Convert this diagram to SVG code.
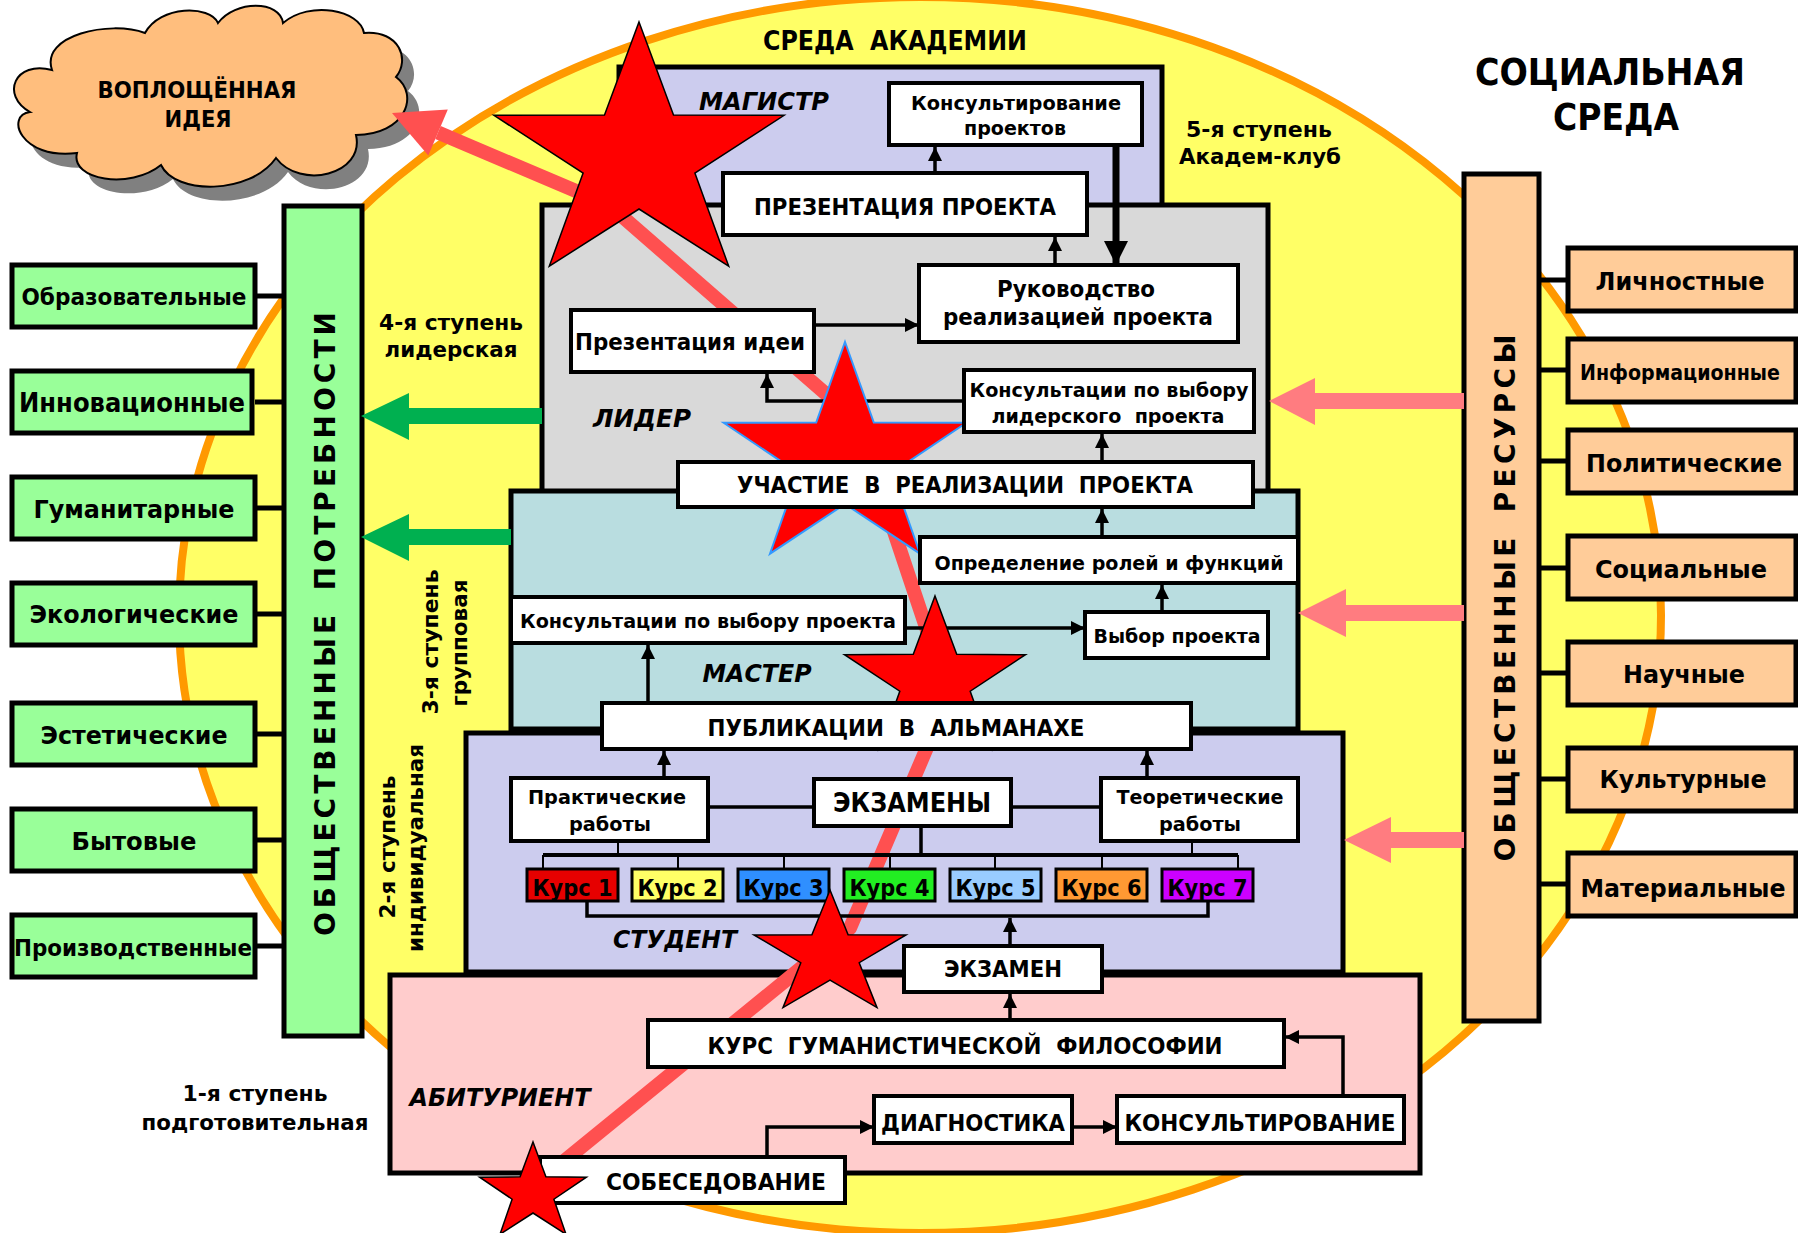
<svg xmlns="http://www.w3.org/2000/svg" width="1798" height="1233" viewBox="0 0 1798 1233">
<style>
.t{font-family:"DejaVu Sans","Liberation Sans",sans-serif;font-weight:bold;text-anchor:middle;fill:#000;white-space:pre}
.it{font-style:italic}
.box{fill:#fff;stroke:#000;stroke-width:4}
.cont{stroke:#000;stroke-width:5}
.ln{stroke:#000;stroke-width:3.5;fill:none}
.thin{stroke:#000;stroke-width:2;fill:none}
.gb{fill:#99FF99;stroke:#000;stroke-width:5}
.pb{fill:#FFCC99;stroke:#000;stroke-width:5}
.kc{stroke:#000;stroke-width:5}
.star{fill:#FF0000;stroke:#000;stroke-width:1.5}
.kurs{stroke:#000;stroke-width:3}
</style>
<defs>
<marker id="a" viewBox="0 0 10 10" refX="10" refY="5" markerWidth="15" markerHeight="14" markerUnits="userSpaceOnUse" orient="auto"><path d="M0,0 L10,5 L0,10 Z" fill="#000"/></marker>
<marker id="ab" viewBox="0 0 10 10" refX="10" refY="5" markerWidth="24" markerHeight="24" markerUnits="userSpaceOnUse" orient="auto"><path d="M0,0 L10,5 L0,10 Z" fill="#000"/></marker>
</defs>
<rect width="1798" height="1233" fill="#fff"/>
<ellipse cx="920" cy="615" rx="741" ry="618" fill="#FFFF66" stroke="#FF9900" stroke-width="8"/>

<g id="cloud">
<path transform="translate(12,14)" fill="#808080" d="M52,70 C40,35 110,20 145,33 C160,5 210,5 218,23 C235,0 280,0 283,23 C310,0 360,10 364,33 C400,30 410,60 396,77 C420,95 405,135 356,135 C365,175 300,190 276,158 C250,195 175,195 161,165 C130,190 70,180 77,153 C20,160 5,115 30,112 C0,95 15,60 52,70 Z"/>
<path fill="#FFBE7D" stroke="#000" stroke-width="2" d="M52,70 C40,35 110,20 145,33 C160,5 210,5 218,23 C235,0 280,0 283,23 C310,0 360,10 364,33 C400,30 410,60 396,77 C420,95 405,135 356,135 C365,175 300,190 276,158 C250,195 175,195 161,165 C130,190 70,180 77,153 C20,160 5,115 30,112 C0,95 15,60 52,70 Z"/>
<text class="t" x="197" y="98" font-size="23" textLength="199" lengthAdjust="spacingAndGlyphs">ВОПЛОЩЁННАЯ</text>
<text class="t" x="198" y="127" font-size="23" textLength="67" lengthAdjust="spacingAndGlyphs">ИДЕЯ</text>
</g>

<g id="titles">
<text class="t" x="895" y="50" font-size="26" textLength="264" lengthAdjust="spacingAndGlyphs" xml:space="preserve">СРЕДА  АКАДЕМИИ</text>
<text class="t" x="1610" y="85" font-size="38" textLength="270" lengthAdjust="spacingAndGlyphs">СОЦИАЛЬНАЯ</text>
<text class="t" x="1616" y="130" font-size="38" textLength="126" lengthAdjust="spacingAndGlyphs">СРЕДА</text>
<text class="t" x="1259" y="137" font-size="22" textLength="146" lengthAdjust="spacingAndGlyphs">5-я ступень</text>
<text class="t" x="1260" y="164" font-size="22" textLength="162" lengthAdjust="spacingAndGlyphs">Академ-клуб</text>
<text class="t" x="451" y="330" font-size="22" textLength="144" lengthAdjust="spacingAndGlyphs">4-я ступень</text>
<text class="t" x="451" y="357" font-size="22" textLength="133" lengthAdjust="spacingAndGlyphs">лидерская</text>
<text class="t" x="255" y="1101" font-size="22" textLength="145" lengthAdjust="spacingAndGlyphs">1-я ступень</text>
<text class="t" x="255" y="1130" font-size="22" textLength="227" lengthAdjust="spacingAndGlyphs">подготовительная</text>
<text class="t" transform="rotate(-90 438 642)" x="438" y="642" font-size="22" textLength="145" lengthAdjust="spacingAndGlyphs">3-я ступень</text>
<text class="t" transform="rotate(-90 467 643)" x="467" y="643" font-size="22" textLength="127" lengthAdjust="spacingAndGlyphs">групповая</text>
<text class="t" transform="rotate(-90 395 847)" x="395" y="847" font-size="22" textLength="143" lengthAdjust="spacingAndGlyphs">2-я ступень</text>
<text class="t" transform="rotate(-90 423 848)" x="423" y="848" font-size="22" textLength="208" lengthAdjust="spacingAndGlyphs">индивидуальная</text>
</g>

<g id="containers">
<rect id="magistr" class="cont" x="619" y="67" width="543" height="140" fill="#CCCCEE"/>
<rect id="lider" class="cont" x="542" y="205" width="726" height="288" fill="#D9D9D9"/>
<rect id="master" class="cont" x="511" y="491" width="787" height="238" fill="#B9DDE0"/>
<rect id="student" class="cont" x="466" y="733" width="877" height="239" fill="#CCCCEE"/>
<rect id="abiturient" class="cont" x="390" y="975" width="1030" height="198" fill="#FFCCCC"/>
</g>

<g id="path-line">
<polyline points="547,1175 850,928 949,696 857,421 609,205 438,132.5" fill="none" stroke="#FF5050" stroke-width="14" stroke-linejoin="round"/>
<polygon points="392,113 447.8,109.5 428.3,155.5" fill="#FF5050"/>
</g>

<g id="connectors">
<path class="ln" d="M935,173 V147" marker-end="url(#a)"/>
<path d="M1116,145 V265" stroke="#000" stroke-width="7" fill="none" marker-end="url(#ab)"/>
<path class="ln" d="M1055,265 V237" marker-end="url(#a)"/>
<path class="ln" d="M814,325 H919" marker-end="url(#a)"/>
<path class="ln" d="M964,401 H767 V374" marker-end="url(#a)"/>
<path class="ln" d="M1102,462 V434" marker-end="url(#a)"/>
<path class="ln" d="M1102,537 V509" marker-end="url(#a)"/>
<path class="ln" d="M1162,612 V585" marker-end="url(#a)"/>
<path class="ln" d="M905,628 H1085" marker-end="url(#a)"/>
<path class="ln" d="M648,703 V645" marker-end="url(#a)"/>
<path class="ln" d="M664,778 V751" marker-end="url(#a)"/>
<path class="ln" d="M1147,778 V751" marker-end="url(#a)"/>
<path class="ln" d="M708,807 H814 M1011,807 H1101 M921,826 V855"/>
<path d="M543,855 H1238" stroke="#000" stroke-width="4" fill="none"/>
<path class="thin" d="M618,841 V855 M1192,841 V855 M543,855 V869 M678,855 V869 M784,855 V869 M890,855 V869 M995,855 V869 M1102,855 V869 M1238,855 V869"/>
<path class="ln" d="M587,901 V916 H1208 V901"/>
<path class="ln" d="M1010,946 V918" marker-end="url(#a)"/>
<path class="ln" d="M1010,1020 V994" marker-end="url(#a)"/>
<path class="ln" d="M767,1157 V1127 H874" marker-end="url(#a)"/>
<path class="ln" d="M1072,1127 H1117" marker-end="url(#a)"/>
<path class="ln" d="M1343,1096 V1037 H1285" marker-end="url(#a)"/>
</g>

<g id="stars-back">
<polygon id="star2" points="845,342 873.8,422.6 966.3,422.8 891.7,472.9 920,553.7 845,504 770,553.7 798.3,472.9 723.7,422.8 816.2,422.6" fill="#FF0000" stroke="#3399FF" stroke-width="2"/>
<polygon id="star3" class="star" points="935,596 956.7,654.3 1025.5,654.7 970.2,691.2 991,749.8 935,714 879,749.8 899.8,691.2 844.5,654.7 913.3,654.3"/>
</g>

<g id="n-konsult-proekt"><rect class="box" x="889" y="83" width="253" height="62"/>
<text class="t" x="1016" y="110" font-size="20" textLength="210" lengthAdjust="spacingAndGlyphs">Консультирование</text>
<text class="t" x="1015" y="135" font-size="20" textLength="102" lengthAdjust="spacingAndGlyphs">проектов</text></g>
<g id="n-prez-proekta"><rect class="box" x="723" y="173" width="364" height="62"/>
<text class="t" x="905" y="215" font-size="23" textLength="302" lengthAdjust="spacingAndGlyphs">ПРЕЗЕНТАЦИЯ ПРОЕКТА</text></g>
<g id="n-rukovodstvo"><rect class="box" x="919" y="265" width="319" height="77"/>
<text class="t" x="1076" y="297" font-size="23" textLength="158" lengthAdjust="spacingAndGlyphs">Руководство</text>
<text class="t" x="1078" y="325" font-size="23" textLength="270" lengthAdjust="spacingAndGlyphs">реализацией проекта</text></g>
<g id="n-prez-idei"><rect class="box" x="571" y="310" width="243" height="62"/>
<text class="t" x="690" y="350" font-size="23" textLength="230" lengthAdjust="spacingAndGlyphs">Презентация идеи</text></g>
<g id="n-kons-lider"><rect class="box" x="964" y="370" width="290" height="62"/>
<text class="t" x="1109" y="397" font-size="20" textLength="279" lengthAdjust="spacingAndGlyphs">Консультации по выбору</text>
<text class="t" x="1108" y="423" font-size="20" textLength="233" lengthAdjust="spacingAndGlyphs" xml:space="preserve">лидерского  проекта</text></g>
<g id="n-uchastie"><rect class="box" x="678" y="462" width="575" height="45"/>
<text class="t" x="965" y="493" font-size="23" textLength="456" lengthAdjust="spacingAndGlyphs" xml:space="preserve">УЧАСТИЕ  В  РЕАЛИЗАЦИИ  ПРОЕКТА</text></g>
<g id="n-opredelenie"><rect class="box" x="920" y="537" width="378" height="46"/>
<text class="t" x="1109" y="570" font-size="20" textLength="349" lengthAdjust="spacingAndGlyphs">Определение ролей и функций</text></g>
<g id="n-kons-vybor"><rect class="box" x="511" y="597" width="394" height="46"/>
<text class="t" x="708" y="628" font-size="20" textLength="376" lengthAdjust="spacingAndGlyphs">Консультации по выбору проекта</text></g>
<g id="n-vybor"><rect class="box" x="1085" y="612" width="183" height="46"/>
<text class="t" x="1177" y="643" font-size="20" textLength="167" lengthAdjust="spacingAndGlyphs">Выбор проекта</text></g>
<g id="n-publikacii"><rect class="box" x="602" y="703" width="589" height="46"/>
<text class="t" x="896" y="736" font-size="23" textLength="377" lengthAdjust="spacingAndGlyphs" xml:space="preserve">ПУБЛИКАЦИИ  В  АЛЬМАНАХЕ</text></g>
<g id="n-prakt"><rect class="box" x="511" y="778" width="197" height="63"/>
<text class="t" x="607" y="804" font-size="20" textLength="158" lengthAdjust="spacingAndGlyphs">Практические</text>
<text class="t" x="610" y="831" font-size="20" textLength="82" lengthAdjust="spacingAndGlyphs">работы</text></g>
<g id="n-ekzameny"><rect class="box" x="814" y="779" width="197" height="47"/>
<text class="t" x="912" y="812" font-size="26" textLength="158" lengthAdjust="spacingAndGlyphs">ЭКЗАМЕНЫ</text></g>
<g id="n-teor"><rect class="box" x="1101" y="778" width="197" height="63"/>
<text class="t" x="1200" y="804" font-size="20" textLength="167" lengthAdjust="spacingAndGlyphs">Теоретические</text>
<text class="t" x="1200" y="831" font-size="20" textLength="82" lengthAdjust="spacingAndGlyphs">работы</text></g>
<g id="n-kurs1"><rect class="kurs" x="527" y="869" width="91" height="32" fill="#E60000"/><text class="t" x="572.5" y="896" font-size="23" textLength="80" lengthAdjust="spacingAndGlyphs">Курс 1</text></g>
<g id="n-kurs2"><rect class="kurs" x="632" y="869" width="91" height="32" fill="#FFFF66"/><text class="t" x="677.5" y="896" font-size="23" textLength="80" lengthAdjust="spacingAndGlyphs">Курс 2</text></g>
<g id="n-kurs3"><rect class="kurs" x="738" y="869" width="91" height="32" fill="#2F8FFF"/><text class="t" x="783.5" y="896" font-size="23" textLength="80" lengthAdjust="spacingAndGlyphs">Курс 3</text></g>
<g id="n-kurs4"><rect class="kurs" x="844" y="869" width="91" height="32" fill="#22EE22"/><text class="t" x="889.5" y="896" font-size="23" textLength="80" lengthAdjust="spacingAndGlyphs">Курс 4</text></g>
<g id="n-kurs5"><rect class="kurs" x="950" y="869" width="91" height="32" fill="#99CCFF"/><text class="t" x="995.5" y="896" font-size="23" textLength="80" lengthAdjust="spacingAndGlyphs">Курс 5</text></g>
<g id="n-kurs6"><rect class="kurs" x="1056" y="869" width="91" height="32" fill="#FF9933"/><text class="t" x="1101.5" y="896" font-size="23" textLength="80" lengthAdjust="spacingAndGlyphs">Курс 6</text></g>
<g id="n-kurs7"><rect class="kurs" x="1162" y="869" width="91" height="32" fill="#CC00FF"/><text class="t" x="1207.5" y="896" font-size="23" textLength="80" lengthAdjust="spacingAndGlyphs">Курс 7</text></g>
<g id="n-ekzamen"><rect class="box" x="904" y="946" width="198" height="46"/>
<text class="t" x="1003" y="977" font-size="23" textLength="118" lengthAdjust="spacingAndGlyphs">ЭКЗАМЕН</text></g>
<g id="n-kurs-fil"><rect class="box" x="648" y="1020" width="636" height="47"/>
<text class="t" x="965" y="1054" font-size="23" textLength="515" lengthAdjust="spacingAndGlyphs" xml:space="preserve">КУРС  ГУМАНИСТИЧЕСКОЙ  ФИЛОСОФИИ</text></g>
<g id="n-diagn"><rect class="box" x="874" y="1096" width="198" height="47"/>
<text class="t" x="973" y="1131" font-size="23" textLength="184" lengthAdjust="spacingAndGlyphs">ДИАГНОСТИКА</text></g>
<g id="n-konsult"><rect class="box" x="1117" y="1096" width="287" height="47"/>
<text class="t" x="1260" y="1131" font-size="23" textLength="271" lengthAdjust="spacingAndGlyphs">КОНСУЛЬТИРОВАНИЕ</text></g>
<g id="n-sobes"><rect class="box" x="540" y="1157" width="305" height="46"/>
<text class="t" x="716" y="1190" font-size="23" textLength="220" lengthAdjust="spacingAndGlyphs">СОБЕСЕДОВАНИЕ</text></g>

<g id="level-labels">
<text class="t it" x="764" y="110" font-size="24" textLength="130" lengthAdjust="spacingAndGlyphs">МАГИСТР</text>
<text class="t it" x="642" y="427" font-size="24" textLength="98" lengthAdjust="spacingAndGlyphs">ЛИДЕР</text>
<text class="t it" x="757" y="682" font-size="24" textLength="109" lengthAdjust="spacingAndGlyphs">МАСТЕР</text>
<text class="t it" x="675" y="948" font-size="24" textLength="124" lengthAdjust="spacingAndGlyphs">СТУДЕНТ</text>
<text class="t it" x="500" y="1106" font-size="24" textLength="181" lengthAdjust="spacingAndGlyphs">АБИТУРИЕНТ</text>
</g>

<g id="stars-front">
<polygon id="star1" class="star" points="639,22 673.5,114.9 784.1,115.3 694.9,173.1 728.7,266.2 639,209 549.3,266.2 583.1,173.1 493.9,115.3 604.5,114.9"/>
<polygon id="star4" class="star" points="830,890 848.1,934.8 906,934.9 859.2,962.7 877,1007.6 830,980 783,1007.6 800.8,962.7 754,934.9 811.9,934.8"/>
<polygon id="star5" class="star" points="533,1142 545.9,1176.8 586.4,1177.2 553.9,1199.2 566,1234.3 533,1213 500,1234.3 512.1,1199.2 479.6,1177.2 520.1,1176.8"/>
</g>

<g id="needs">
<path class="kc" d="M255,296 H284 M255,402 H284 M255,508 H284 M255,614 H284 M255,734 H284 M255,840 H284 M255,946 H284"/>
<rect id="needs-bar" class="gb" x="284" y="206" width="78" height="830"/>
<text class="t" transform="rotate(-90 335 624)" x="335" y="624" font-size="28" textLength="624" lengthAdjust="spacing" xml:space="preserve">О Б Щ Е С Т В Е Н Н Ы Е    П О Т Р Е Б Н О С Т И</text>
<g id="need1"><rect class="gb" x="12" y="265" width="243" height="62"/><text class="t" x="134" y="305" font-size="23" textLength="225" lengthAdjust="spacingAndGlyphs">Образовательные</text></g>
<g id="need2"><rect class="gb" x="12" y="371" width="240" height="62"/><text class="t" x="132" y="412" font-size="26" textLength="226" lengthAdjust="spacingAndGlyphs">Инновационные</text></g>
<g id="need3"><rect class="gb" x="12" y="477" width="243" height="62"/><text class="t" x="134" y="518" font-size="25" textLength="201" lengthAdjust="spacingAndGlyphs">Гуманитарные</text></g>
<g id="need4"><rect class="gb" x="12" y="583" width="243" height="62"/><text class="t" x="134" y="623" font-size="25" textLength="209" lengthAdjust="spacingAndGlyphs">Экологические</text></g>
<g id="need5"><rect class="gb" x="12" y="703" width="243" height="62"/><text class="t" x="134" y="744" font-size="25" textLength="187" lengthAdjust="spacingAndGlyphs">Эстетические</text></g>
<g id="need6"><rect class="gb" x="12" y="809" width="243" height="62"/><text class="t" x="134" y="850" font-size="25" textLength="125" lengthAdjust="spacingAndGlyphs">Бытовые</text></g>
<g id="need7"><rect class="gb" x="12" y="915" width="243" height="62"/><text class="t" x="133" y="956" font-size="23" textLength="238" lengthAdjust="spacingAndGlyphs">Производственные</text></g>
<polygon fill="#00B050" points="361,416 409,393 409,408 542,408 542,424 409,424 409,440"/>
<polygon fill="#00B050" points="361,537 409,514 409,529 511,529 511,545 409,545 409,561"/>
</g>

<g id="resources">
<path class="kc" d="M1539,280 H1568 M1539,370 H1568 M1539,461 H1568 M1539,568 H1568 M1539,673 H1568 M1539,779 H1568 M1539,884 H1568"/>
<rect id="res-bar" class="pb" x="1464" y="174" width="75" height="847"/>
<text class="t" transform="rotate(-90 1515 598)" x="1515" y="598" font-size="28" textLength="527" lengthAdjust="spacing" xml:space="preserve">О Б Щ Е С Т В Е Н Н Ы Е    Р Е С У Р С Ы</text>
<g id="res1"><rect class="pb" x="1568" y="248" width="228" height="63"/><text class="t" x="1680" y="290" font-size="25" textLength="169" lengthAdjust="spacingAndGlyphs">Личностные</text></g>
<g id="res2"><rect class="pb" x="1568" y="339" width="228" height="63"/><text class="t" x="1680" y="380" font-size="21" textLength="200" lengthAdjust="spacingAndGlyphs">Информационные</text></g>
<g id="res3"><rect class="pb" x="1568" y="430" width="228" height="63"/><text class="t" x="1684" y="472" font-size="25" textLength="196" lengthAdjust="spacingAndGlyphs">Политические</text></g>
<g id="res4"><rect class="pb" x="1568" y="536" width="228" height="63"/><text class="t" x="1681" y="578" font-size="25" textLength="172" lengthAdjust="spacingAndGlyphs">Социальные</text></g>
<g id="res5"><rect class="pb" x="1568" y="642" width="228" height="63"/><text class="t" x="1684" y="683" font-size="25" textLength="122" lengthAdjust="spacingAndGlyphs">Научные</text></g>
<g id="res6"><rect class="pb" x="1568" y="748" width="228" height="63"/><text class="t" x="1683" y="788" font-size="25" textLength="167" lengthAdjust="spacingAndGlyphs">Культурные</text></g>
<g id="res7"><rect class="pb" x="1568" y="853" width="228" height="63"/><text class="t" x="1683" y="897" font-size="25" textLength="205" lengthAdjust="spacingAndGlyphs">Материальные</text></g>
<polygon fill="#FF7C80" points="1269,401 1315,378 1315,393 1464,393 1464,409 1315,409 1315,425"/>
<polygon fill="#FF7C80" points="1298,613 1346,589 1346,605 1464,605 1464,621 1346,621 1346,637"/>
<polygon fill="#FF7C80" points="1344,840 1391,817 1391,832 1464,832 1464,848 1391,848 1391,863"/>
</g>
</svg>
